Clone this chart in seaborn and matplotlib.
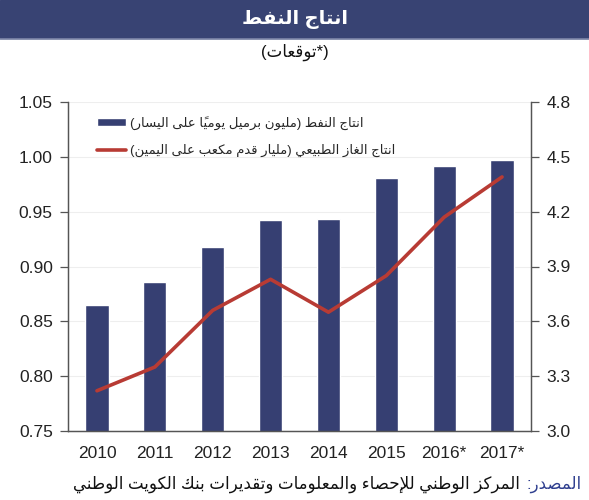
import numpy as np
import pandas as pd
import seaborn as sns
import matplotlib.pyplot as plt
from matplotlib.patches import Rectangle
from matplotlib.ticker import FormatStrFormatter

# ---- data ----
years = ["2010", "2011", "2012", "2013", "2014", "2015", "2016*", "2017*"]
oil = [0.865, 0.886, 0.918, 0.942, 0.943, 0.981, 0.992, 0.997]   # left axis
gas = [3.22, 3.35, 3.66, 3.83, 3.65, 3.85, 4.17, 4.39]            # right axis

title = "انتاج النفط"
subtitle = "(*توقعات)"
oil_label = "انتاج النفط (مليون برميل يومياً على اليسار)"
gas_label = "انتاج الغاز الطبيعي (مليار قدم مكعب على اليمين)"
source_head = "المصدر:"
source_text = "المركز الوطني للإحصاء والمعلومات وتقديرات بنك الكويت الوطني"

bar_color = "#363f72"
line_color = "#b83b34"
banner_color = "#384373"

# ---- tiny arabic shaper (matplotlib does no shaping / bidi) ----
DUAL = set("بتثجحخسشصضطظعغفقكلمنهيئ")
RIGHT = set("اأإآدذرزوؤةى")
FORMS = {'ء': 0xFE80, 'آ': 0xFE81, 'أ': 0xFE83, 'ؤ': 0xFE85, 'إ': 0xFE87, 'ئ': 0xFE89,
         'ا': 0xFE8D, 'ب': 0xFE8F, 'ة': 0xFE93, 'ت': 0xFE95, 'ث': 0xFE99, 'ج': 0xFE9D,
         'ح': 0xFEA1, 'خ': 0xFEA5, 'د': 0xFEA9, 'ذ': 0xFEAB, 'ر': 0xFEAD, 'ز': 0xFEAF,
         'س': 0xFEB1, 'ش': 0xFEB5, 'ص': 0xFEB9, 'ض': 0xFEBD, 'ط': 0xFEC1, 'ظ': 0xFEC5,
         'ع': 0xFEC9, 'غ': 0xFECD, 'ف': 0xFED1, 'ق': 0xFED5, 'ك': 0xFED9, 'ل': 0xFEDD,
         'م': 0xFEE1, 'ن': 0xFEE5, 'ه': 0xFEE9, 'و': 0xFEED, 'ى': 0xFEEF, 'ي': 0xFEF1}
LAM_ALEF = {'آ': 0xFEF5, 'أ': 0xFEF7, 'إ': 0xFEF9, 'ا': 0xFEFB}
MARKS = set(chr(c) for c in range(0x064B, 0x0653))


def rtl(text):
    cl = []
    for ch in text:
        if ch in MARKS and cl:
            cl[-1][1] += ch
        else:
            cl.append([ch, ''])
    merged = []
    i = 0
    while i < len(cl):
        if cl[i][0] == 'ل' and i + 1 < len(cl) and cl[i + 1][0] in LAM_ALEF:
            merged.append(['LA' + cl[i + 1][0], cl[i][1] + cl[i + 1][1]])
            i += 2
        else:
            merged.append(cl[i])
            i += 1

    def joins_next(b):
        return b in DUAL

    def joins(b):
        return b in DUAL or b in RIGHT or b.startswith('LA')

    out = []
    for i, (b, m) in enumerate(merged):
        prev = merged[i - 1][0] if i > 0 else ''
        nxt = merged[i + 1][0] if i + 1 < len(merged) else ''
        p = joins(b) and joins_next(prev)
        n = joins_next(b) and joins(nxt)
        if b.startswith('LA'):
            g = chr(LAM_ALEF[b[2]] + (1 if p else 0))
        elif b in DUAL:
            g = chr(FORMS[b] + (3 if p and n else 1 if p else 2 if n else 0))
        elif b in RIGHT:
            g = chr(FORMS[b] + (1 if p else 0))
        elif b in FORMS:
            g = chr(FORMS[b])
        else:
            g = {'(': ')', ')': '('}.get(b, b)  # mirrored in rtl
        out.append(g + m)
    return ''.join(reversed(out))


def main():
    df = pd.DataFrame({"year": years, "oil": oil, "gas": gas})

    sns.set_style("white")
    plt.rcParams['font.family'] = ['Liberation Sans', 'DejaVu Sans']

    fig = plt.figure(figsize=(5.89, 5.0), dpi=100)
    ax = fig.add_axes([0.1155, 0.138, 0.786, 0.658])

    sns.barplot(data=df, x="year", y="oil", color=bar_color, saturation=1, width=0.4, ax=ax)
    ax.set_ylim(0.75, 1.05)
    ax.set_yticks(np.arange(0.75, 1.051, 0.05))
    ax.yaxis.set_major_formatter(FormatStrFormatter('%.2f'))
    ax.set_xlabel('')
    ax.set_ylabel('')
    ax.set_axisbelow(True)
    ax.yaxis.grid(True, color='#eeeeee', lw=0.8)

    ax2 = ax.twinx()
    sns.lineplot(x=np.arange(len(years)), y=df["gas"], color=line_color, lw=2.6, ax=ax2)
    ax2.set_ylim(3.0, 4.8)
    ax2.set_yticks(np.arange(3.0, 4.81, 0.3))
    ax2.yaxis.set_major_formatter(FormatStrFormatter('%.1f'))
    ax2.set_ylabel('')
    ax.set_xlim(-0.5, len(years) - 0.5)

    # ticks
    ax.set_xticks(np.arange(len(years)))
    ax.set_xticklabels(years)
    ax.set_xticks(np.arange(-0.5, len(years), 1.0), minor=True)
    ax.tick_params(axis='x', which='major', length=0, pad=11, labelsize=12.5, colors='#222222')
    ax.tick_params(axis='x', which='minor', length=6, direction='inout', width=0.9, color='#555555')
    ax.tick_params(axis='y', length=6, direction='out', width=0.9, pad=5, labelsize=12.5,
                   color='#555555', labelcolor='#222222', left=True)
    ax2.tick_params(axis='y', length=6, direction='out', width=0.9, pad=5, labelsize=12.5,
                    color='#555555', labelcolor='#222222', right=True)

    for a in (ax, ax2):
        a.spines['top'].set_visible(False)
        for s in ('left', 'right', 'bottom'):
            a.spines[s].set_color('#555555')
            a.spines[s].set_linewidth(0.9)

    # legend
    handles = [ax.patches[0], ax2.lines[0]]
    ax2.legend(handles, [rtl(oil_label), rtl(gas_label)], loc='upper left',
               bbox_to_anchor=(0.062, 0.958), frameon=False, fontsize=9.5,
               handlelength=2.2, handleheight=0.6, handletextpad=0.35,
               labelspacing=1.1, borderpad=0, borderaxespad=0)

    # title banner
    fig.add_artist(Rectangle((0, 0.924), 1, 0.076, transform=fig.transFigure,
                             color=banner_color, zorder=0))
    fig.add_artist(plt.Line2D([0, 1], [0.922, 0.922], transform=fig.transFigure,
                              color='#7d86a8', lw=1.2))
    fig.text(0.5, 0.961, rtl(title), color='white', fontsize=14, fontweight='bold',
             ha='center', va='center')
    fig.text(0.5, 0.895, rtl(subtitle), color='#111111', fontsize=12, ha='center', va='center')

    # source line: blue head on the right, the rest to its left
    head = fig.text(0.988, 0.031, rtl(source_head), color='#2f3f8f', fontsize=12,
                    ha='right', va='center')
    ax.annotate(rtl(source_text), xy=(0, 0.5), xycoords=head, xytext=(-5, 0),
                textcoords='offset points', ha='right', va='center', fontsize=12,
                color='#111111', annotation_clip=False)

    fig.savefig("out.png", dpi=100)


if __name__ == '__main__':
    main()
